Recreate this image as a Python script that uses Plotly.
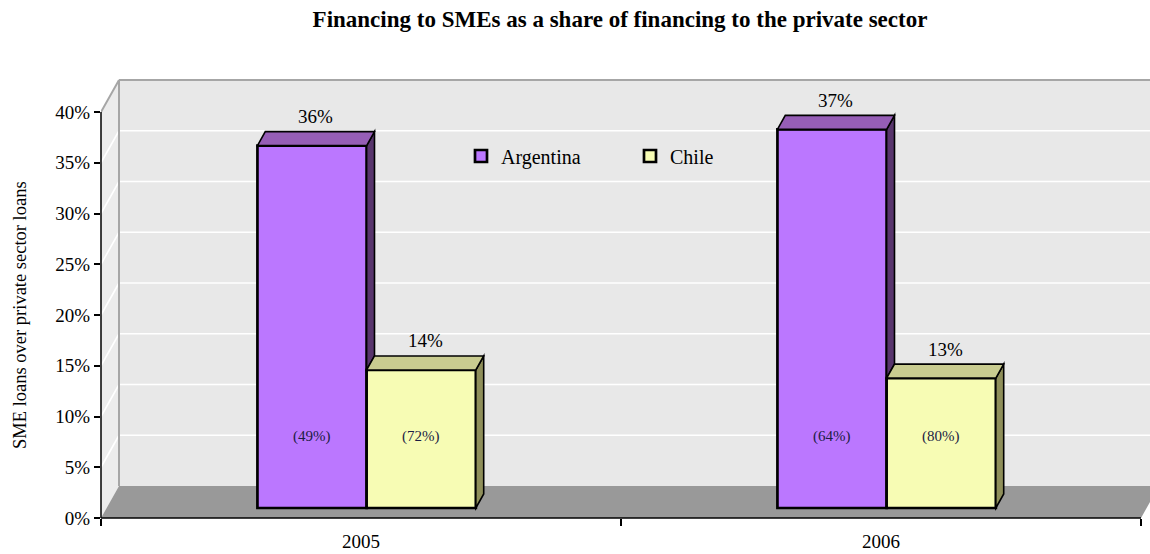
import plotly.graph_objects as go

# ---------------- data ----------------
years = ["2005", "2006"]
series_names = ["Argentina", "Chile"]
argentina = [0.357, 0.373]          # SME loans / private sector loans
chile = [0.136, 0.128]
argentina_share = [0.49, 0.64]      # figures shown in brackets inside bars
chile_share = [0.72, 0.80]
y_tick_vals = [0.0, 0.05, 0.10, 0.15, 0.20, 0.25, 0.30, 0.35, 0.40]
y_tick_text = ["0%", "5%", "10%", "15%", "20%", "25%", "30%", "35%", "40%"]

# ---------------- geometry / style ----------------
W, H = 1150, 554
ML, MR, MT, MB = 101, 0, 78, 36
PX_PER_CAT = 520.0
PX_PER_UNIT_Y = 1015.0
X0 = -0.5
X1 = X0 + (W - ML - MR) / PX_PER_CAT
Y0 = 0.0
Y1 = (H - MT - MB) / PX_PER_UNIT_Y
YMAX = y_tick_vals[-1]
DX = 18 / PX_PER_CAT        # full depth shift (x units)
DY = 32 / PX_PER_UNIT_Y     # full depth shift (y units)
D_FRONT, D_BACK = 0.3125, 0.75
BAR_W = 0.21
FONT = "Liberation Serif"

front_col = {"Argentina": "#bb77ff", "Chile": "#f7fcb4"}
top_col = {"Argentina": "#965eb6", "Chile": "#c9cc90"}
side_col = {"Argentina": "#58356c", "Chile": "#8f8f5a"}

base = D_FRONT * DY
xshift = D_FRONT * DX
ddx = (D_BACK - D_FRONT) * DX
ddy = (D_BACK - D_FRONT) * DY


def path(pts):
    return "M " + " L ".join(f"{x},{y}" for x, y in pts) + " Z"


def px_paper_x(v):
    return (v - X0) / (X1 - X0)


def px_paper_y(v):
    return (v - Y0) / (Y1 - Y0)


fig = go.Figure()

values = {"Argentina": argentina, "Chile": chile}
shares = {"Argentina": argentina_share, "Chile": chile_share}
offsets = {"Argentina": -BAR_W + xshift, "Chile": xshift}

for name in series_names:
    fig.add_trace(go.Bar(
        name=name,
        x=list(range(len(years))),
        y=values[name],
        base=base,
        offset=offsets[name],
        width=BAR_W,
        marker=dict(color=front_col[name], line=dict(color="black", width=2.7)),
        hoverinfo="skip",
    ))

shapes = []
# back wall
shapes.append(dict(type="path", xref="x", yref="y", layer="below",
                   path=path([(X0 + DX, DY), (1.5 + DX, DY), (1.5 + DX, YMAX + DY), (X0 + DX, YMAX + DY)]),
                   fillcolor="#e8e8e8", line=dict(width=0)))
# side wall
shapes.append(dict(type="path", xref="x", yref="y", layer="below",
                   path=path([(X0, 0), (X0 + DX, DY), (X0 + DX, YMAX + DY), (X0, YMAX)]),
                   fillcolor="#ececec", line=dict(width=0)))
# floor
shapes.append(dict(type="path", xref="x", yref="y", layer="below",
                   path=path([(X0, 0), (1.5, 0), (1.5 + DX, DY), (X0 + DX, DY)]),
                   fillcolor="#999999", line=dict(width=0)))
# gridlines on walls
for t in y_tick_vals[1:-1]:
    shapes.append(dict(type="line", xref="x", yref="y", layer="below",
                       x0=X0 + DX, x1=1.5 + DX, y0=t + DY, y1=t + DY,
                       line=dict(color="white", width=1.6)))
    shapes.append(dict(type="line", xref="x", yref="y", layer="below",
                       x0=X0, x1=X0 + DX, y0=t, y1=t + DY,
                       line=dict(color="white", width=1.6)))
# wall edges
edge = dict(color="#a6a6a6", width=2)
shapes.append(dict(type="line", xref="x", yref="y", layer="below",
                   x0=X0, x1=X0 + DX, y0=YMAX, y1=YMAX + DY, line=edge))
shapes.append(dict(type="line", xref="x", yref="y", layer="below",
                   x0=X0 + DX, x1=1.5 + DX, y0=YMAX + DY, y1=YMAX + DY, line=edge))
shapes.append(dict(type="line", xref="x", yref="y", layer="below",
                   x0=X0 + DX, x1=X0 + DX, y0=DY, y1=YMAX + DY, line=edge))

# 3D faces of bars
for i in range(len(years)):
    for k, name in enumerate(series_names):
        v = values[name][i]
        xl = i + offsets[name]
        xr = xl + BAR_W
        yt = base + v
        ybot = base
        if k + 1 < len(series_names):
            nxt_top = base + values[series_names[k + 1]][i]
            ybot = max(base, min(nxt_top, yt))
        if yt > ybot:
            shapes.append(dict(type="path", xref="x", yref="y", layer="above",
                               path=path([(xr, ybot), (xr + ddx, ybot + ddy), (xr + ddx, yt + ddy), (xr, yt)]),
                               fillcolor=side_col[name], line=dict(color="black", width=1.6)))
        shapes.append(dict(type="path", xref="x", yref="y", layer="above",
                           path=path([(xl, yt), (xr, yt), (xr + ddx, yt + ddy), (xl + ddx, yt + ddy)]),
                           fillcolor=top_col[name], line=dict(color="black", width=1.6)))

# axis lines
shapes.append(dict(type="line", xref="paper", yref="paper", layer="above",
                   x0=0, x1=px_paper_x(1.5), y0=0, y1=0,
                   line=dict(color="black", width=1.5)))
shapes.append(dict(type="line", xref="paper", yref="paper", layer="above",
                   x0=0, x1=0, y0=0, y1=px_paper_y(YMAX),
                   line=dict(color="black", width=1.5)))

annotations = []
for i in range(len(years)):
    for name in series_names:
        v = values[name][i]
        xl = i + offsets[name]
        xc = xl + BAR_W / 2
        annotations.append(dict(x=xc + ddx / 2, y=base + v + ddy, xref="x", yref="y",
                                text=f"{v:.0%}", showarrow=False, xanchor="center",
                                yanchor="middle", yshift=15,
                                font=dict(family=FONT, size=19, color="black")))
        annotations.append(dict(x=xc, y=0.08, xref="x", yref="y",
                                text=f"({shares[name][i]:.0%})", showarrow=False,
                                xanchor="center", yanchor="middle",
                                font=dict(family=FONT, size=15, color="#1c1c44")))

annotations.append(dict(x=-81 / (W - ML - MR), y=px_paper_y(YMAX / 2), xref="paper", yref="paper",
                        xanchor="center", yanchor="middle",
                        text="SME loans over private sector loans", textangle=-90, showarrow=False,
                        font=dict(family=FONT, size=18.5, color="black")))

fig.update_layout(
    width=W, height=H,
    margin=dict(l=ML, r=MR, t=MT, b=MB),
    paper_bgcolor="white", plot_bgcolor="white",
    font=dict(family=FONT, size=19, color="black"),
    title=dict(text="<b>Financing to SMEs as a share of financing to the private sector</b>",
               x=620 / W, xanchor="center", y=1 - 19 / H, yanchor="middle",
               font=dict(family=FONT, size=23, color="black")),
    xaxis=dict(range=[X0, X1], showgrid=False, zeroline=False, showline=False,
               tickmode="array", tickvals=list(range(len(years))), ticktext=years, ticks="",
               ticklabelstandoff=10, tickfont=dict(size=19),
               minor=dict(ticks="outside", tick0=-0.5, dtick=1, ticklen=7, tickcolor="black",
                          tickwidth=1.5, showgrid=False)),
    yaxis=dict(range=[Y0, Y1], showgrid=False, zeroline=False, showline=False,
               tickmode="array", tickvals=y_tick_vals, ticktext=y_tick_text,
               ticks="outside", ticklen=6, tickcolor="black", tickwidth=1.5,
               tickfont=dict(size=19)),
    barmode="overlay",
    showlegend=True,
    legend=dict(orientation="h", x=(461 - ML) / (W - ML - MR), xanchor="left",
                y=(518 - 156) / (H - MT - MB), yanchor="middle",
                bgcolor="rgba(0,0,0,0)", font=dict(family=FONT, size=20),
                entrywidth=124, entrywidthmode="pixels"),
    shapes=shapes,
    annotations=annotations,
)

fig.write_html("out.html", config={"displayModeBar": False},
               post_script="document.body.style.margin='0px';")
